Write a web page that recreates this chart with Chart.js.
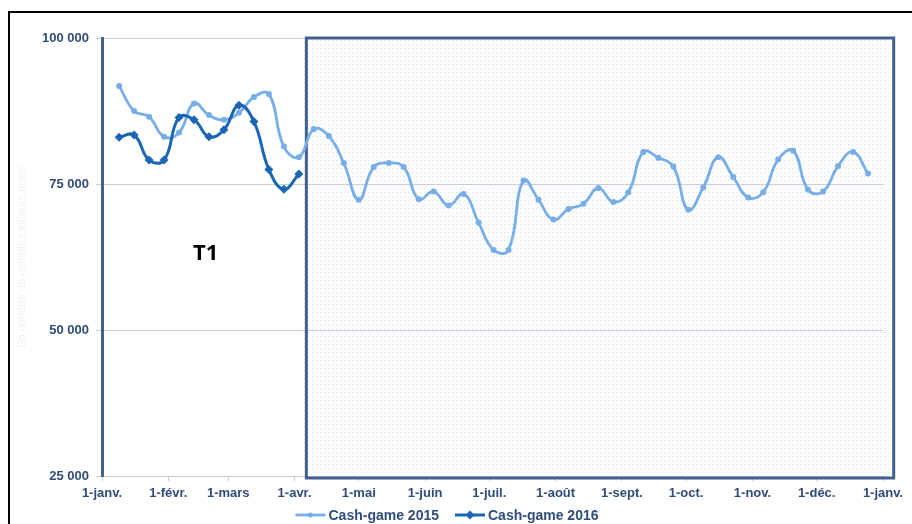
<!DOCTYPE html>
<html>
<head>
<meta charset="utf-8">
<script src="https://cdn.jsdelivr.net/npm/chart.js@4.4.0/dist/chart.umd.min.js"></script>
<style>
  html, body { margin: 0; padding: 0; background: #fff; overflow: hidden; }
  #frame { position: absolute; left: 8px; top: 11px; width: 1000px; height: 600px;
           border-left: 2px solid #000; border-top: 2px solid #000; }
  #wrap { position: absolute; left: 0; top: 0; width: 912px; height: 524px; }
</style>
</head>
<body>
<div id="frame"></div>
<div id="wrap"><canvas id="chart"></canvas></div>
<script>
/* ---------------- data ---------------- */
// x axis: day of year, ticks on the 1st of each month
const monthDays = [0, 31, 59, 90, 120, 151, 181, 212, 243, 273, 304, 334, 365];
const monthLabels = ['1-janv.', '1-févr.', '1-mars', '1-avr.', '1-mai', '1-juin', '1-juil.',
  '1-août', '1-sept.', '1-oct.', '1-nov.', '1-déc.', '1-janv.'];

// weekly readings (day of year)
const weekDays = [8, 15, 22, 29, 36, 43, 50, 57, 64, 71, 78, 85, 92, 99, 106, 113, 120,
  127, 134, 141, 148, 155, 162, 169, 176, 183, 190, 197, 204, 211, 218, 225, 232, 239,
  246, 253, 260, 267, 274, 281, 288, 295, 302, 309, 316, 323, 330, 337, 344, 351, 358];

const cash2015 = [91800, 87500, 86500, 83100, 83800, 88800, 86800, 86000, 87200, 89900,
  90400, 81400, 79600, 84400, 83200, 78600, 72300, 77900, 78600, 77900, 72400, 73700,
  71300, 73300, 68400, 63700, 63700, 75600, 72300, 68900, 70700, 71600, 74300, 71900,
  73600, 80500, 79500, 78000, 70600, 74400, 79600, 76200, 72700, 73600, 79200, 80700,
  74000, 73700, 78100, 80500, 76800];

const cash2016 = [83000, 83400, 79100, 79100, 86400, 86000, 83100, 84300, 88500, 85700,
  77500, 74100, 76700];

const yTicks = [25000, 50000, 75000, 100000];

// shaded part of the year (after the first quarter)
const shadeFrom = 95.5;
const shadeTo = 370;
const quarterLabel = { text: 'T1', day: 48.5, value: 63000 };

/* ---------------- plugins ---------------- */
function dotPattern(ctx) {
  const c = document.createElement('canvas');
  c.width = 4; c.height = 4;
  const p = c.getContext('2d');
  p.fillStyle = '#ffffff';
  p.fillRect(0, 0, 4, 4);
  p.fillStyle = '#cfdcee';
  p.fillRect(0, 0, 1, 1);
  p.fillStyle = '#e6edf7';
  p.fillRect(2, 2, 1, 1);
  return ctx.createPattern(c, 'repeat');
}

function shadeRect(chart) {
  const xs = chart.scales.x, ys = chart.scales.y;
  const x0 = xs.getPixelForValue(shadeFrom);
  const x1 = xs.getPixelForValue(shadeTo);
  const y0 = ys.getPixelForValue(yTicks[yTicks.length - 1]);
  const y1 = ys.getPixelForValue(yTicks[0]) + 2;
  return { x0, x1, y0, y1 };
}

const shadePlugin = {
  id: 'shade',
  beforeDraw(chart) {
    const { ctx } = chart;
    const r = shadeRect(chart);
    ctx.save();
    ctx.fillStyle = dotPattern(ctx);
    ctx.fillRect(r.x0, r.y0, r.x1 - r.x0, r.y1 - r.y0);
    ctx.restore();
  },
  beforeDatasetsDraw(chart) {
    const { ctx } = chart;
    const r = shadeRect(chart);
    ctx.save();
    ctx.strokeStyle = '#42608e';
    ctx.lineWidth = 3;
    ctx.strokeRect(r.x0, r.y0, r.x1 - r.x0, r.y1 - r.y0);
    // quarter label
    ctx.fillStyle = '#000';
    ctx.font = 'bold 22px "Open Sans", sans-serif';
    ctx.textAlign = 'center';
    ctx.textBaseline = 'middle';
    ctx.fillText(quarterLabel.text,
      chart.scales.x.getPixelForValue(quarterLabel.day),
      chart.scales.y.getPixelForValue(quarterLabel.value));
    ctx.restore();
  }
};

// Excel-like legend: line with marker in the middle
const lineLegend = {
  id: 'lineLegend',
  afterDraw(chart) {
    const { ctx } = chart;
    const sets = chart.data.datasets;
    ctx.save();
    ctx.font = 'bold 14px "Liberation Sans", Arial, sans-serif';
    const lineLen = 30, gap = 16, textGap = 3;
    const widths = sets.map(ds => lineLen + textGap + ctx.measureText(ds.label).width);
    const total = widths.reduce((a, b) => a + b, 0) + gap * (sets.length - 1);
    let x = chart.width / 2 - total / 2 - 9;
    const y = chart.height - 9;
    sets.forEach((ds, i) => {
      const cx = x + lineLen / 2;
      ctx.strokeStyle = ds.borderColor;
      ctx.lineWidth = ds.borderWidth;
      ctx.beginPath();
      ctx.moveTo(x, y);
      ctx.lineTo(x + lineLen, y);
      ctx.stroke();
      ctx.fillStyle = ds.borderColor;
      ctx.beginPath();
      if (ds.pointStyle === 'rectRot') {
        const s = ds.pointRadius;
        ctx.moveTo(cx, y - s); ctx.lineTo(cx + s, y);
        ctx.lineTo(cx, y + s); ctx.lineTo(cx - s, y);
      } else {
        ctx.arc(cx, y, ds.pointRadius - 0.5, 0, Math.PI * 2);
      }
      ctx.fill();
      ctx.fillStyle = '#2f4d7c';
      ctx.textAlign = 'left';
      ctx.textBaseline = 'middle';
      ctx.fillText(ds.label, x + lineLen + textGap, y + 1);
      x += widths[i] + gap;
    });
    ctx.restore();
  }
};

/* ---------------- chart ---------------- */
const tickColor = '#2f4d7c';
const gridColor = '#c6cdd9';

new Chart(document.getElementById('chart'), {
  type: 'line',
  data: {
    datasets: [
      {
        label: 'Cash-game 2015',
        data: cash2015.map((v, i) => ({ x: weekDays[i], y: v })),
        borderColor: '#78aee8',
        backgroundColor: '#78aee8',
        borderWidth: 2.8,
        pointStyle: 'circle',
        pointRadius: 3,
        pointBorderWidth: 0,
        tension: 0.45,
        order: 1
      },
      {
        label: 'Cash-game 2016',
        data: cash2016.map((v, i) => ({ x: weekDays[i], y: v })),
        borderColor: '#1b66b3',
        backgroundColor: '#1b66b3',
        borderWidth: 3,
        pointStyle: 'rectRot',
        pointRadius: 4.5,
        pointBorderWidth: 0,
        tension: 0.45,
        order: 0
      }
    ]
  },
  options: {
    responsive: true,
    maintainAspectRatio: false,
    animation: false,
    layout: { padding: { left: 0, right: 29, top: 38, bottom: 24 } },
    plugins: {
      legend: { display: false },
      tooltip: { enabled: false }
    },
    scales: {
      x: {
        type: 'linear',
        min: monthDays[0],
        max: monthDays[monthDays.length - 1],
        afterBuildTicks: (scale) => { scale.ticks = monthDays.map(v => ({ value: v })); },
        afterFit: (scale) => { scale.height = 24; },
        grid: { drawOnChartArea: false, drawTicks: true, tickLength: 5, color: gridColor },
        border: { color: gridColor, width: 1 },
        ticks: {
          autoSkip: false,
          maxRotation: 0,
          padding: 5,
          color: tickColor,
          font: { family: '"Liberation Sans", Arial, sans-serif', size: 13, weight: 'bold' },
          callback: (v, i) => monthLabels[i]
        }
      },
      y: {
        min: yTicks[0],
        max: yTicks[yTicks.length - 1],
        afterBuildTicks: (scale) => { scale.ticks = yTicks.map(v => ({ value: v })); },
        afterFit: (scale) => { scale.width = 102; },
        grid: { color: gridColor, lineWidth: 1, tickLength: 6 },
        border: { color: '#41618f', width: 3 },
        title: {
          display: true,
          text: 'En nombre de comptes joueurs actifs',
          color: '#f1f1f1',
          font: { family: '"Liberation Sans", Arial, sans-serif', size: 11 },
          padding: { top: 15, bottom: 0 }
        },
        ticks: {
          padding: 7,
          color: tickColor,
          font: { family: '"Liberation Sans", Arial, sans-serif', size: 13, weight: 'bold' },
          callback: (v) => String(v).replace(/\B(?=(\d{3})+(?!\d))/g, ' ')
        }
      }
    }
  },
  plugins: [shadePlugin, lineLegend]
});
</script>
</body>
</html>
